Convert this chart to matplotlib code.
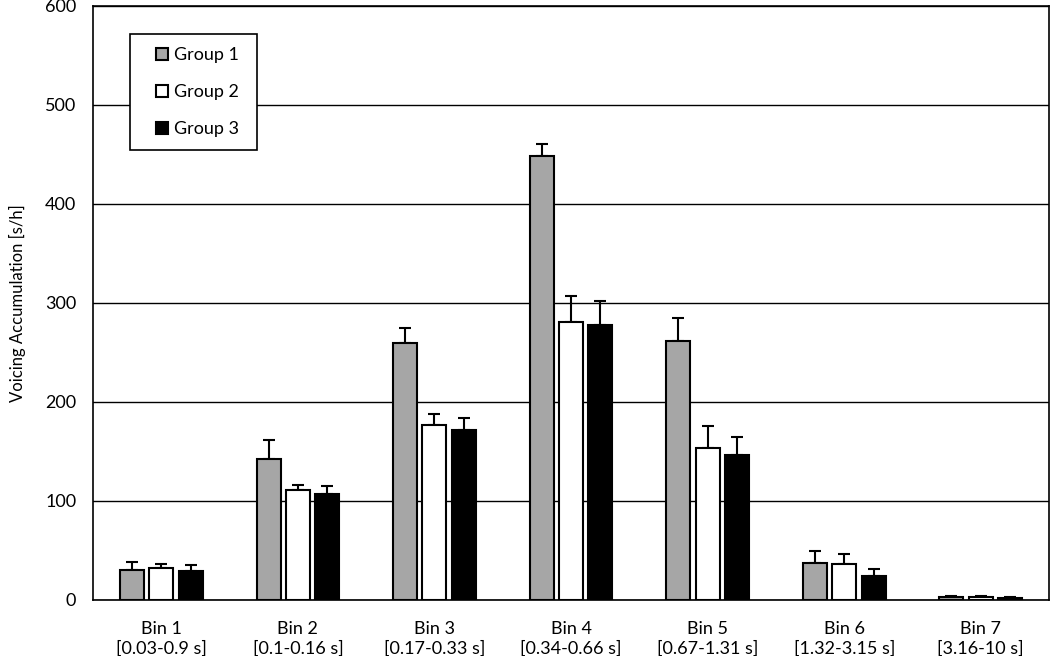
import matplotlib
matplotlib.use('Agg')
import matplotlib.pyplot as plt
from matplotlib.lines import Line2D
import numpy as np

bins = ['Bin 1\n[0.03-0.9 s]', 'Bin 2\n[0.1-0.16 s]', 'Bin 3\n[0.17-0.33 s]',
        'Bin 4\n[0.34-0.66 s]', 'Bin 5\n[0.67-1.31 s]', 'Bin 6\n[1.32-3.15 s]',
        'Bin 7\n[3.16-10 s]']
group1 = [30, 142, 260, 448, 262, 37, 3]
group2 = [32, 111, 177, 281, 154, 36, 3]
group3 = [29, 107, 172, 278, 146, 24, 2]
err1 = [8, 20, 15, 13, 23, 12, 1]
err2 = [4, 5, 11, 26, 22, 10, 1]
err3 = [6, 8, 12, 24, 19, 7, 1]

plt.rcParams['font.family'] = ['Lato', 'DejaVu Sans']

fig = plt.figure(figsize=(10.5, 6.56), dpi=100)
ax = fig.add_axes([0.0886, 0.0854, 0.9105, 0.9055])

x = np.arange(len(bins))
w = 0.176
off = 0.215
colors = ['#a6a6a6', 'white', 'black']
labels = ['Group 1', 'Group 2', 'Group 3']
series = [(group1, err1), (group2, err2), (group3, err3)]
for i, (vals, errs) in enumerate(series):
    pos = x + (i - 1) * off
    ax.bar(pos, vals, w, color=colors[i], edgecolor='black', linewidth=1.5, zorder=3)
    # only the upper half of the error bar is drawn
    ax.errorbar(pos, vals, yerr=[np.zeros(len(errs)), errs], fmt='none',
                ecolor='black', elinewidth=1.5, capsize=4, capthick=1.5, zorder=2)

ax.set_xlim(-0.5, len(bins) - 0.5)
ax.set_ylim(0, 600)
ax.set_yticks(range(0, 601, 100))
ax.yaxis.grid(True, color='black', linewidth=1.0, zorder=0)
ax.set_axisbelow(True)
ax.set_xticks(x)
ax.set_xticklabels(bins, fontsize=13, linespacing=1.3)
ax.tick_params(axis='x', length=0, pad=15)
ax.tick_params(axis='y', labelsize=13, length=0, pad=12)
ax.set_ylabel('Voicing Accumulation [s/h]', fontsize=12, labelpad=14)
for s in ax.spines.values():
    s.set_linewidth(1.2)

handles = [Line2D([], [], linestyle='none', marker='s', markersize=8,
                  markerfacecolor=c, markeredgecolor='black', markeredgewidth=1.5)
           for c in colors]
leg = ax.legend(handles, labels, loc='upper left',
                bbox_to_anchor=(0.0387, 0.766, 0.1328, 0.187), mode='expand',
                fontsize=13, handlelength=2.0, labelspacing=1.15,
                borderpad=0.75, handletextpad=-0.3, fancybox=False,
                framealpha=1, edgecolor='black', borderaxespad=0)
leg.get_frame().set_linewidth(1.2)

fig.savefig('out.png', dpi=100)
